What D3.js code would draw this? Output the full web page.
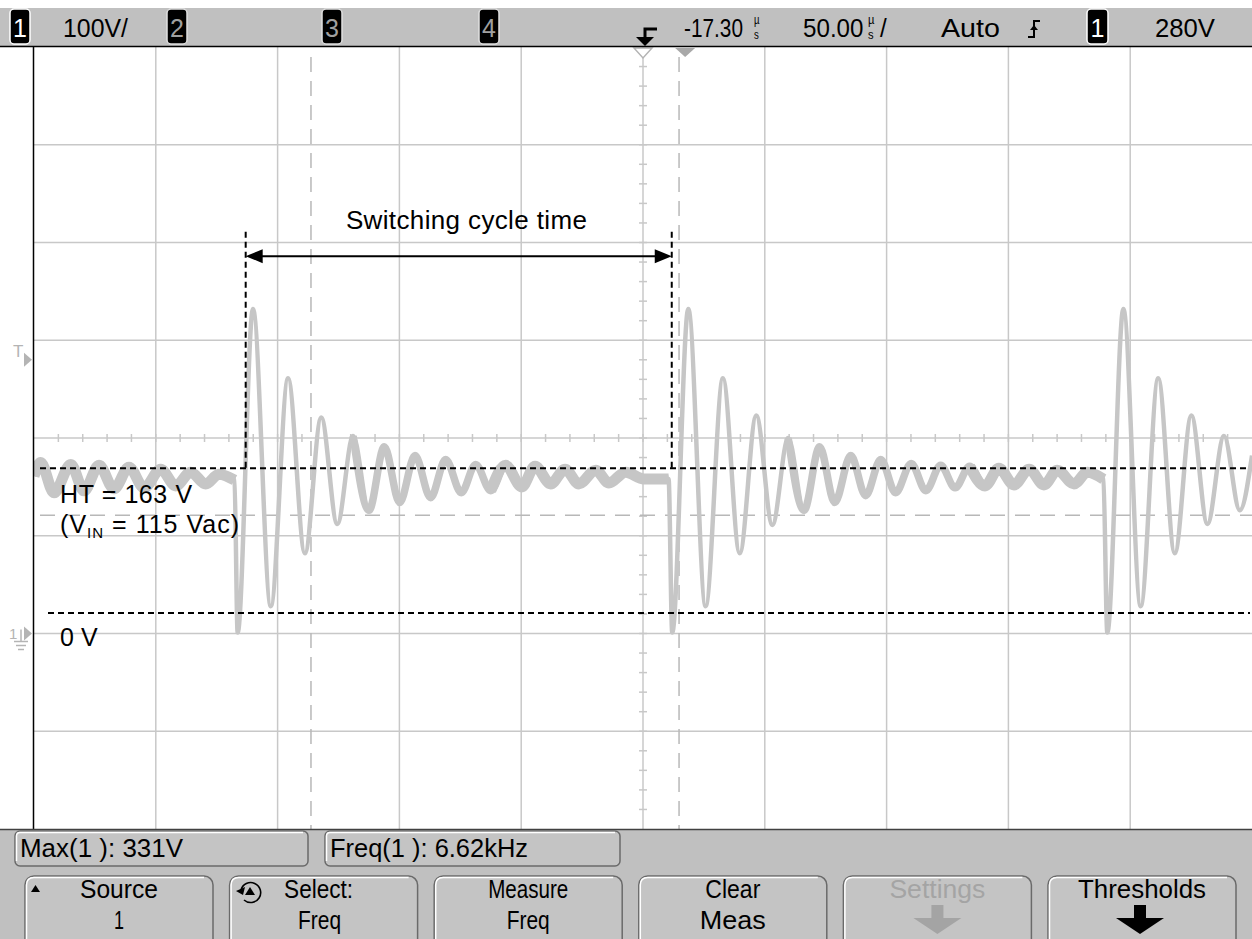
<!DOCTYPE html>
<html>
<head>
<meta charset="utf-8">
<script src="https://cdn.jsdelivr.net/npm/d3@7"></script>
<style>
html,body{margin:0;padding:0;background:#fff;overflow:hidden;}
svg{display:block;}
text{font-family:"Liberation Sans",Arial,Helvetica,sans-serif;}
</style>
</head>
<body>
<svg id="chart" width="1252" height="939"></svg>
<script>
// ---------------- data ----------------
const timeRange = [-267.3, 232.7];   // µs across 10 divisions (50 µs/div, delay -17.30 µs)
const voltRange = [-200, 600];       // V across 8 divisions (100 V/div), ground = 0 V
const timePerDiv = 50;
const voltPerDiv = 100;
const triggerLevel = 280;
const delayTime = -17.3;

// waveform extrema (time µs, volts)
const waveTime = [
  -267.3,-264.6,-259.1,-252.2,-246.8,-240.6,-234.5,-228.3,-222.1,-215.3,-209.1,-203.0,-196.8,-191.4,-185.0,-183.7,
  -177.4,-170.1,-163.0,-156.1,-149.4,-142.8,-136.3,-129.8,-123.5,-117.2,-110.9,-104.5,-98.3,-91.9,-86.0,-79.8,
  -73.7,-67.1,-61.6,-55.2,-49.3,-43.6,-36.7,-31.3,-24.4,-16.9,-6.8,-5.3,
  1.3,8.4,15.5,22.4,29.2,35.8,42.3,48.8,55.2,61.4,68.0,74.1,80.3,86.4,92.8,98.8,
  104.9,110.8,116.8,123.1,128.8,135.0,141.2,147.3,152.8,159.6,165.1,171.7,173.3,
  179.9,187.0,194.2,201.0,207.8,214.4,221.2,227.7,232.7
];
const waveVolts = [
  161,175,144,173,146,172,148,170,149,168,151,165,153,163,157,1,
  332,28,261,82,221,112,202,126,191,134,182,139,178,144,173,146,
  172,150,171,153,168,153,167,154,165,158,158,1,
  332,28,261,82,223,111,200,126,191,134,182,141,178,144,174,146,
  172,149,171,151,169,152,168,152,167,153,165,158,1,
  332,28,261,82,223,112,202,126,182
];
// time spans where the trace shows the heavy noise band
const noisySpans = [[-267.3,-185.0],[-136.3,-6.8],[42.3,171.7]];
const plateauSpans = [[-267.3,-185.0],[-79.8,-6.8],[116.8,171.7]];

// scope cursors (grey dashed)
const cursorTimes = [-153.6, -2.5];
const cursorVolts = [121];

// annotations
const htLevel = 169;
const zeroLevel = 21;
const cycleTimes = [-180.4, -5.5];
const cycleArrowVolt = 386;
const cycleTopVolt = 411;
const cycleLabel = "Switching cycle time";
const cycleLabelPos = [-89.8, 414];
const htLabel = "HT = 163 V";
const vinLabel = ["(V", "IN", " = 115 Vac)"];
const zeroLabel = "0 V";
const labelTime = -256.6;
const labelVolts = [134, 103, -13];

// scope UI texts
const channelBadges = ["1", "2", "3", "4"];
const scaleLabel = "100V/";
const delayLabel = "-17.30";
const timebaseLabel = "50.00";
const modeLabel = "Auto";
const trigLevelLabel = "280V";
const measLabels = ["Max(1 ): 331V", "Freq(1 ): 6.62kHz"];
const buttonLine1 = ["Source", "Select:", "Measure", "Clear", "Settings", "Thresholds"];
const buttonLine2 = ["1", "Freq", "Freq", "Meas", "", ""];

// ---------------- drawing ----------------
const svg = d3.select("#chart");
const W = 1252, H = 939;
const plot = {l: 34, r: 1252, t: 47, b: 829};
const sx = d3.scaleLinear().domain(timeRange).range([plot.l, plot.r]);
const sy = d3.scaleLinear().domain(voltRange).range([plot.b, plot.t]);
const gridCol = "#c8c8c8";
const panelCol = "#c0c0c0";
const traceCol = "#c6c6c6";

svg.append("rect").attr("width", W).attr("height", H).attr("fill", "#fff");

svg.append("clipPath").attr("id", "plotclip").append("rect")
  .attr("x", plot.l).attr("y", plot.t).attr("width", plot.r - plot.l).attr("height", plot.b - plot.t);

const grid = svg.append("g");
const nx = Math.round((timeRange[1] - timeRange[0]) / timePerDiv);
const ny = Math.round((voltRange[1] - voltRange[0]) / voltPerDiv);
const xDivs = d3.range(1, nx).map(i => timeRange[0] + i * timePerDiv);
const yDivs = d3.range(1, ny).map(i => voltRange[0] + i * voltPerDiv);
grid.selectAll(".vx").data(xDivs).join("line")
  .attr("x1", d => sx(d)).attr("x2", d => sx(d)).attr("y1", plot.t).attr("y2", plot.b)
  .attr("stroke", gridCol).attr("stroke-width", 1.5);
grid.selectAll(".hy").data(yDivs).join("line")
  .attr("x1", plot.l).attr("x2", plot.r).attr("y1", d => sy(d)).attr("y2", d => sy(d))
  .attr("stroke", gridCol).attr("stroke-width", 1.5);
const cT = timeRange[0] + timePerDiv * nx / 2;
const cV = voltRange[0] + voltPerDiv * ny / 2;
const xMinor = d3.range(1, nx * 5).map(i => timeRange[0] + i * timePerDiv / 5);
const yMinor = d3.range(1, ny * 5).map(i => voltRange[0] + i * voltPerDiv / 5);
grid.selectAll(".mx").data(xMinor).join("line")
  .attr("x1", d => sx(d)).attr("x2", d => sx(d)).attr("y1", sy(cV) - 4).attr("y2", sy(cV) + 4)
  .attr("stroke", gridCol).attr("stroke-width", 1.5);
grid.selectAll(".my").data(yMinor).join("line")
  .attr("y1", d => sy(d)).attr("y2", d => sy(d)).attr("x1", sx(cT) - 4).attr("x2", sx(cT) + 4)
  .attr("stroke", gridCol).attr("stroke-width", 1.5);

// cursors
const cur = svg.append("g").attr("clip-path", "url(#plotclip)");
cur.selectAll(".ct").data(cursorTimes).join("line")
  .attr("x1", d => sx(d)).attr("x2", d => sx(d)).attr("y1", plot.t + 10).attr("y2", plot.b)
  .attr("stroke", "#b8b8b8").attr("stroke-width", 1.5).attr("stroke-dasharray", "15,9");
cur.selectAll(".cv").data(cursorVolts).join("line")
  .attr("x1", plot.l + 6).attr("x2", plot.r).attr("y1", d => sy(d)).attr("y2", d => sy(d))
  .attr("stroke", "#b8b8b8").attr("stroke-width", 1.5).attr("stroke-dasharray", "15,10");

// waveform
const pts = waveTime.map((t, i) => ({t, v: waveVolts[i]}));
const line = d3.line().x(d => sx(d.t)).y(d => sy(d.v)).curve(d3.curveMonotoneX);
const wave = svg.append("g").attr("clip-path", "url(#plotclip)");
wave.append("path").attr("d", line(pts)).attr("fill", "none")
  .attr("stroke", traceCol).attr("stroke-width", 4.5).attr("stroke-linejoin", "round");
noisySpans.forEach(s => {
  const sub = pts.filter(p => p.t >= s[0] && p.t <= s[1]);
  wave.append("path").attr("d", line(sub)).attr("fill", "none")
    .attr("stroke", traceCol).attr("stroke-width", 7.5).attr("stroke-linejoin", "round");
});
plateauSpans.forEach(s => {
  const sub = pts.filter(p => p.t >= s[0] && p.t <= s[1]);
  wave.append("path").attr("d", line(sub)).attr("fill", "none")
    .attr("stroke", traceCol).attr("stroke-width", 11).attr("stroke-linejoin", "round");
});

// annotations (black dashed)
const ann = svg.append("g");
const dash = "6,4";
ann.append("line").attr("x1", plot.l + 6).attr("x2", plot.r - 2).attr("y1", sy(htLevel)).attr("y2", sy(htLevel))
  .attr("stroke", "#000").attr("stroke-width", 2).attr("stroke-dasharray", dash);
ann.append("line").attr("x1", plot.l + 14).attr("x2", plot.r - 2).attr("y1", sy(zeroLevel)).attr("y2", sy(zeroLevel))
  .attr("stroke", "#000").attr("stroke-width", 2).attr("stroke-dasharray", dash);
cycleTimes.forEach(t => {
  ann.append("line").attr("x1", sx(t)).attr("x2", sx(t)).attr("y1", sy(cycleTopVolt)).attr("y2", sy(htLevel))
    .attr("stroke", "#000").attr("stroke-width", 2).attr("stroke-dasharray", dash);
});
const ax0 = sx(cycleTimes[0]), ax1 = sx(cycleTimes[1]), ay = sy(cycleArrowVolt);
ann.append("line").attr("x1", ax0 + 10).attr("x2", ax1 - 10).attr("y1", ay).attr("y2", ay)
  .attr("stroke", "#000").attr("stroke-width", 2);
ann.append("path").attr("d", `M${ax0},${ay} L${ax0 + 17},${ay - 7} L${ax0 + 17},${ay + 7} Z`).attr("fill", "#000");
ann.append("path").attr("d", `M${ax1},${ay} L${ax1 - 17},${ay - 7} L${ax1 - 17},${ay + 7} Z`).attr("fill", "#000");
ann.append("text").attr("x", sx(cycleLabelPos[0])).attr("y", sy(cycleLabelPos[1]))
  .attr("text-anchor", "middle").attr("font-size", 26).attr("fill", "#000")
  .attr("textLength", 241).text(cycleLabel);
ann.append("text").attr("x", sx(labelTime)).attr("y", sy(labelVolts[0]))
  .attr("font-size", 25).attr("fill", "#000").attr("textLength", 132).text(htLabel);
const vt = ann.append("text").attr("x", sx(labelTime)).attr("y", sy(labelVolts[1]))
  .attr("font-size", 25).attr("fill", "#000").attr("textLength", 179);
vt.append("tspan").text(vinLabel[0]);
vt.append("tspan").attr("font-size", 15).attr("dy", 5).text(vinLabel[1]);
vt.append("tspan").attr("dy", -5).text(vinLabel[2]);
ann.append("text").attr("x", sx(labelTime)).attr("y", sy(labelVolts[2]))
  .attr("font-size", 25).attr("fill", "#000").text(zeroLabel);

// left-side markers (trigger level T and ground 1)
const mk = svg.append("g").attr("fill", "#b4b4b4").attr("stroke", "none");
const ty = sy(triggerLevel);
mk.append("text").attr("x", 13).attr("y", ty - 3).attr("font-size", 17).attr("fill", "#b4b4b4").text("T");
mk.append("path").attr("d", `M24,${ty - 7} L32,${ty} L24,${ty + 7} Z`);
const gy = sy(0);
mk.append("text").attr("x", 9).attr("y", gy + 5).attr("font-size", 15).attr("fill", "#b4b4b4").text("1");
mk.append("path").attr("d", `M24,${gy - 7} L32,${gy} L24,${gy + 7} Z`);
const gnd = svg.append("g").attr("stroke", "#b4b4b4").attr("stroke-width", 1.5);
gnd.append("line").attr("x1", 21).attr("x2", 21).attr("y1", gy - 4).attr("y2", gy + 8);
gnd.append("line").attr("x1", 14).attr("x2", 28).attr("y1", gy + 8).attr("y2", gy + 8);
gnd.append("line").attr("x1", 16).attr("x2", 26).attr("y1", gy + 12).attr("y2", gy + 12);
gnd.append("line").attr("x1", 18).attr("x2", 24).attr("y1", gy + 16).attr("y2", gy + 16);

// top markers
const tcx = sx(delayTime), trx = sx(0);
svg.append("path").attr("d", `M${tcx - 9},${plot.t + 1} L${tcx + 9},${plot.t + 1} L${tcx},${plot.t + 11} Z`)
  .attr("fill", "#fff").attr("stroke", "#b4b4b4").attr("stroke-width", 1.5);
svg.append("path").attr("d", `M${trx - 10},${plot.t + 1} L${trx + 10},${plot.t + 1} L${trx},${plot.t + 10} Z`)
  .attr("fill", "#a8a8a8");

// left border
svg.append("line").attr("x1", 33.5).attr("x2", 33.5).attr("y1", plot.t).attr("y2", plot.b)
  .attr("stroke", "#000").attr("stroke-width", 1.5);

// ---------------- top status bar ----------------
const topBar = svg.append("g");
topBar.append("rect").attr("x", 0).attr("y", 8).attr("width", W).attr("height", 38).attr("fill", panelCol);
topBar.append("line").attr("x1", 0).attr("x2", W).attr("y1", 46.5).attr("y2", 46.5).attr("stroke", "#000").attr("stroke-width", 1.5);
const badgeX = [10, 167, 322, 479];
channelBadges.forEach((b, i) => {
  const on = i === 0;
  topBar.append("rect").attr("x", badgeX[i]).attr("y", 9).attr("width", 20).attr("height", 35).attr("rx", 4)
    .attr("fill", "#000").attr("stroke", on ? "#fff" : "#e0e0e0").attr("stroke-width", 1.5);
  topBar.append("text").attr("x", badgeX[i] + 10).attr("y", 37).attr("text-anchor", "middle")
    .attr("font-size", 25).attr("fill", on ? "#fff" : "#a0a0a0").text(b);
});
function topText(x, txt, w) {
  return topBar.append("text").attr("x", x).attr("y", 37).attr("font-size", 26).attr("fill", "#000")
    .attr("textLength", w).attr("lengthAdjust", "spacingAndGlyphs").text(txt);
}
// number followed by stacked "µ/s" unit, drawn as one compressed text
function timeText(x, num, sc, microX, suffix, suffixX) {
  const t = topBar.append("text").attr("transform", `translate(${x},37) scale(${sc},1)`)
    .attr("font-size", 26).attr("fill", "#000");
  t.append("tspan").attr("x", 0).attr("y", 0).text(num);
  t.append("tspan").attr("x", (microX - x) / sc).attr("y", -13).attr("font-size", 12).text("µ");
  t.append("tspan").attr("x", (microX - x) / sc).attr("y", 2).attr("font-size", 12).text("s");
  if (suffix) t.append("tspan").attr("x", (suffixX - x) / sc).attr("y", 0).text(suffix);
}
topText(63, scaleLabel, 65);
timeText(684, delayLabel, 0.8, 754);
timeText(803, timebaseLabel, 0.93, 868, "/", 880);
topText(941, modeLabel, 59);
topText(1155, trigLevelLabel, 60);
topBar.append("path").attr("d", "M657,29 H645 V39").attr("fill", "none").attr("stroke", "#000").attr("stroke-width", 3);
topBar.append("path").attr("d", "M636,37 L654,37 L645,46 Z").attr("fill", "#000");
topBar.append("path").attr("d", "M1028,37 H1034 V21 H1040").attr("fill", "none").attr("stroke", "#000").attr("stroke-width", 2);
topBar.append("path").attr("d", "M1030,30 L1034,25 L1038,30 Z").attr("fill", "#000");
topBar.append("rect").attr("x", 1087).attr("y", 9).attr("width", 21).attr("height", 35).attr("rx", 4)
  .attr("fill", "#000").attr("stroke", "#fff").attr("stroke-width", 1.5);
topBar.append("text").attr("x", 1097.5).attr("y", 37).attr("text-anchor", "middle").attr("font-size", 25).attr("fill", "#fff").text("1");

// ---------------- bottom soft-key panel ----------------
const bot = svg.append("g");
bot.append("rect").attr("x", 0).attr("y", plot.b).attr("width", W).attr("height", H - plot.b).attr("fill", panelCol);
bot.append("line").attr("x1", 0).attr("x2", W).attr("y1", plot.b + 0.5).attr("y2", plot.b + 0.5).attr("stroke", "#404040").attr("stroke-width", 1.5);
function bevelBox(x, y, w, h, r) {
  bot.append("rect").attr("x", x).attr("y", y).attr("width", w).attr("height", h).attr("rx", r)
    .attr("fill", "#c4c4c4").attr("stroke", "#6a6a6a").attr("stroke-width", 1.5);
  bot.append("path").attr("d", `M${x + 1.5},${y + h - r} V${y + r} Q${x + 1.5},${y + 1.5} ${x + r},${y + 1.5} H${x + w - r}`)
    .attr("fill", "none").attr("stroke", "#fff").attr("stroke-width", 1.5);
}
const measX = [15, 325], measW = [293, 295];
measLabels.forEach((m, i) => {
  bevelBox(measX[i], 831, measW[i], 35, 5);
  bot.append("text").attr("x", measX[i] + 5).attr("y", 857).attr("font-size", 26).attr("fill", "#000")
    .attr("textLength", i === 0 ? 163 : 198).attr("lengthAdjust", "spacingAndGlyphs").text(m);
});
const btnX = buttonLine1.map((_, i) => 25 + i * 204.6);
const btnW = 188;
const l1W = [78, 69, 80, 55, 96, 128];
const l2W = [10, 43, 43, 66, 0, 0];
buttonLine1.forEach((b, i) => {
  bevelBox(btnX[i], 876, btnW, 80, 9);
  const cx = btnX[i] + btnW / 2 + (i === 1 ? -5 : 0);
  const col = i === 4 ? "#a4a4a4" : "#000";
  bot.append("text").attr("x", cx).attr("y", 898).attr("text-anchor", "middle").attr("font-size", 26).attr("fill", col)
    .attr("textLength", l1W[i]).attr("lengthAdjust", "spacingAndGlyphs").text(b);
  if (buttonLine2[i]) {
    bot.append("text").attr("x", cx + (i === 1 ? 1 : 0)).attr("y", 929).attr("text-anchor", "middle").attr("font-size", 26).attr("fill", col)
      .attr("textLength", l2W[i]).attr("lengthAdjust", "spacingAndGlyphs").text(buttonLine2[i]);
  }
  if (i >= 4) {
    const ac = btnX[i] + btnW / 2 + (i === 5 ? -2 : 0);
    bot.append("rect").attr("x", ac - 6).attr("y", 905).attr("width", 12).attr("height", 13).attr("fill", col);
    bot.append("path").attr("d", `M${ac - 24},${918} L${ac + 24},${918} L${ac},${934} Z`).attr("fill", col);
  }
});
bot.append("path").attr("d", "M31,892 L40,892 L35.5,885 Z").attr("fill", "#000");
const ix = 250, iy = 893;
bot.append("path").attr("d", `M${ix - 9},${iy - 3} A10,10 0 1,1 ${ix - 6},${iy + 7}`)
  .attr("fill", "none").attr("stroke", "#000").attr("stroke-width", 1.6);
bot.append("path").attr("d", `M${ix - 14},${iy - 2} L${ix - 5},${iy - 6} L${ix - 7},${iy + 2} Z`).attr("fill", "#000");
bot.append("path").attr("d", `M${ix - 5},${iy + 2} L${ix + 5},${iy + 2} L${ix},${iy - 6} Z`).attr("fill", "#000");
</script>
</body>
</html>
